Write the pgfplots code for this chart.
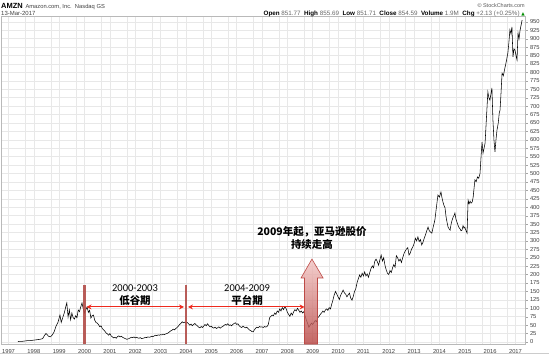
\documentclass[border=0pt]{standalone}
\usepackage{fontspec}
\setmainfont{Liberation Sans}
\newfontfamily\cjk{Noto Sans CJK SC}
\newfontfamily\carlito{Carlito}
\newfontfamily\dejavu{DejaVu Sans}
\usepackage{pgfplots}
\pgfplotsset{compat=1.18}
\usetikzlibrary{arrows.meta}
\definecolor{vline}{HTML}{B24C48}
\definecolor{redarrow}{HTML}{EE2A1E}
\definecolor{arrowedge}{HTML}{BD4A46}
\definecolor{arrowtop}{HTML}{F2C4C2}
\definecolor{arrowbot}{HTML}{B5413E}
\begin{document}
\begin{tikzpicture}
\path[use as bounding box] (0,0) rectangle (549bp,357bp);
\begin{axis}[
  at={(1bp,13bp)}, anchor=south west,
  width=524bp, height=327.5bp, scale only axis,
  xmin=1996.704, xmax=2017.375, ymin=-6, ymax=966,
  axis line style={gray!55},
  xtick={1997,1998,...,2017},
  minor xtick={1997.67,1998.67,1999.67,2000.67,2001.67,2002.67,2003.67,2004.67,2005.67,2006.67,2007.67,2008.67,2009.67,2010.67,2011.67,2012.67,2013.67,2014.67,2015.67,2016.67},
  ytick={0,25,...,950},
  xtick pos=bottom, ytick pos=right,
  tick align=outside, major tick length=2.5bp, minor tick length=0pt,
  xtick style={draw=none},
  ytick style={gray!70},
  grid=both,
  major grid style={gray!18, line width=0.5bp},
  minor grid style={gray!18, line width=0.5bp},
  /pgf/number format/1000 sep={},
  /pgf/number format/assume math mode=true,
  tick label style={font=\fontsize{5.8}{6}\selectfont, text=black!75},
  yticklabel style={anchor=west, xshift=-1bp},
  xticklabel style={yshift=0.5bp},
  clip=false,
]
\addplot[black, line width=0.55bp] table {
1997.37 1
1997.45 2
1997.55 2
1997.65 3
1997.75 4
1997.85 4
1997.95 5
1998.05 6
1998.15 7
1998.25 8
1998.35 10
1998.42 20
1998.48 25
1998.52 22
1998.58 17
1998.65 15
1998.72 20
1998.8 30
1998.88 48
1998.95 58
1999.03 80
1999.08 58
1999.13 70
1999.2 86
1999.27 108
1999.3 116
1999.35 74
1999.4 95
1999.45 66
1999.5 86
1999.55 72
1999.6 68
1999.65 78
1999.7 72
1999.75 95
1999.8 90
1999.85 104
1999.9 116
1999.95 98
2000.0 86
2000.05 96
2000.1 104
2000.15 88
2000.2 94
2000.25 71
2000.3 78
2000.35 80
2000.4 65
2000.45 58
2000.5 56
2000.55 52
2000.6 45
2000.65 48
2000.7 40
2000.75 36
2000.8 32
2000.85 27
2000.9 24
2000.95 20
2001.0 25
2001.05 18
2001.1 15
2001.15 12
2001.2 14
2001.25 11
2001.3 16
2001.35 18
2001.4 15
2001.45 17
2001.5 14
2001.55 12
2001.6 10
2001.67 8
2001.75 10
2001.8 12
2001.85 14
2001.9 13
2001.95 15
2002.0 12
2002.05 14
2002.1 12
2002.15 11
2002.2 13
2002.25 10
2002.3 11
2002.35 12
2002.4 14
2002.45 13
2002.5 15
2002.55 14
2002.6 15
2002.65 17
2002.7 16
2002.75 18
2002.8 20
2002.85 19
2002.9 21
2002.95 20
2003.0 22
2003.05 21
2003.1 23
2003.15 22
2003.2 24
2003.25 25
2003.3 27
2003.35 30
2003.4 33
2003.45 35
2003.5 38
2003.55 36
2003.6 40
2003.65 43
2003.7 47
2003.75 52
2003.8 55
2003.85 60
2003.9 57
2003.95 59
2004.0 56
2004.05 58
2004.1 54
2004.15 50
2004.2 53
2004.25 48
2004.3 52
2004.35 55
2004.4 51
2004.45 48
2004.5 44
2004.55 42
2004.6 46
2004.65 43
2004.7 47
2004.75 52
2004.8 48
2004.85 54
2004.9 49
2004.95 45
2005.0 47
2005.05 43
2005.1 41
2005.15 44
2005.2 40
2005.25 42
2005.3 45
2005.35 41
2005.4 44
2005.45 46
2005.5 49
2005.55 52
2005.6 50
2005.65 54
2005.7 49
2005.75 51
2005.8 48
2005.85 52
2005.9 55
2005.95 57
2006.0 52
2006.05 54
2006.1 48
2006.15 45
2006.2 43
2006.25 47
2006.3 44
2006.35 42
2006.4 44
2006.45 40
2006.5 36
2006.55 34
2006.6 31
2006.65 30
2006.7 36
2006.75 41
2006.8 44
2006.85 42
2006.9 46
2006.95 44
2007.0 45
2007.05 43
2007.1 46
2007.15 44
2007.2 46
2007.25 52
2007.3 72
2007.35 76
2007.4 80
2007.45 78
2007.5 86
2007.55 82
2007.6 92
2007.65 88
2007.7 98
2007.75 92
2007.8 102
2007.85 96
2007.9 105
2007.95 99
2008.0 88
2008.05 82
2008.1 76
2008.15 86
2008.2 80
2008.25 90
2008.3 96
2008.35 92
2008.4 100
2008.45 94
2008.5 88
2008.55 92
2008.6 86
2008.65 90
2008.7 78
2008.75 65
2008.8 55
2008.85 44
2008.9 50
2008.95 56
2009.0 52
2009.05 58
2009.1 64
2009.15 60
2009.2 72
2009.25 76
2009.3 82
2009.35 86
2009.4 92
2009.45 88
2009.5 95
2009.55 98
2009.6 94
2009.65 102
2009.7 98
2009.75 112
2009.8 125
2009.85 140
2009.9 150
2009.95 142
2010.0 134
2010.05 126
2010.1 138
2010.15 146
2010.2 154
2010.25 146
2010.3 142
2010.35 134
2010.4 140
2010.45 145
2010.5 130
2010.55 124
2010.6 135
2010.65 150
2010.7 158
2010.75 176
2010.8 188
2010.85 199
2010.9 192
2010.95 204
2011.0 196
2011.05 208
2011.1 196
2011.15 202
2011.2 192
2011.25 206
2011.3 218
2011.35 226
2011.4 220
2011.45 240
2011.5 246
2011.55 238
2011.6 228
2011.65 244
2011.7 258
2011.75 240
2011.8 250
2011.85 228
2011.9 214
2011.95 204
2012.0 200
2012.05 212
2012.1 206
2012.15 220
2012.2 230
2012.25 222
2012.3 256
2012.35 250
2012.4 240
2012.45 246
2012.5 236
2012.55 250
2012.6 262
2012.65 270
2012.7 276
2012.75 280
2012.8 258
2012.85 264
2012.9 276
2012.95 282
2013.0 292
2013.05 308
2013.1 300
2013.15 312
2013.2 298
2013.25 304
2013.3 288
2013.35 296
2013.4 308
2013.45 318
2013.5 330
2013.55 341
2013.6 330
2013.65 326
2013.7 323
2013.75 340
2013.82 362
2013.88 400
2013.94 436
2014.0 430
2014.06 445
2014.1 428
2014.14 415
2014.18 405
2014.22 398
2014.26 372
2014.3 355
2014.34 341
2014.38 336
2014.42 332
2014.46 350
2014.5 362
2014.54 371
2014.58 376
2014.61 383
2014.65 365
2014.69 356
2014.73 347
2014.77 340
2014.81 336
2014.85 330
2014.89 332
2014.93 345
2014.97 338
2015.0 341
2015.05 330
2015.09 323
2015.13 421
2015.17 410
2015.21 418
2015.25 412
2015.29 415
2015.33 430
2015.37 460
2015.4 481
2015.45 476
2015.5 490
2015.55 486
2015.6 500
2015.65 560
2015.68 593
2015.72 561
2015.76 575
2015.8 590
2015.85 660
2015.91 742
2015.95 725
2015.99 718
2016.03 735
2016.07 754
2016.11 659
2016.15 600
2016.19 564
2016.23 600
2016.27 629
2016.32 650
2016.36 680
2016.39 688
2016.43 740
2016.47 798
2016.52 790
2016.56 805
2016.59 816
2016.63 830
2016.67 846
2016.7 858
2016.74 890
2016.78 926
2016.82 915
2016.86 935
2016.9 846
2016.94 870
2016.98 866
2017.02 850
2017.06 837
2017.1 917
2017.14 900
2017.18 925
2017.22 940
2017.26 955
};
% vertical markers
\draw[vline, line width=2.2bp, opacity=0.9] (axis cs:2000.0,-6) -- (axis cs:2000.0,169);
\draw[vline, line width=2.2bp, opacity=0.9] (axis cs:2004.0,-6) -- (axis cs:2004.0,169);
% double arrows
\draw[redarrow, line width=1.1bp, {Stealth[length=5bp,width=5bp]}-{Stealth[length=5bp,width=5bp]}] (axis cs:2000.08,104) -- (axis cs:2003.92,104);
\draw[redarrow, line width=1.1bp, {Stealth[length=5bp,width=5bp]}-{Stealth[length=5bp,width=5bp]}] (axis cs:2004.08,104) -- (axis cs:2008.68,104);
% block arrow
\path[draw=arrowedge, line width=0.6bp, top color=arrowtop, bottom color=arrowbot, fill opacity=0.8]
  (axis cs:2008.676,-6) -- (axis cs:2008.676,190) -- (axis cs:2008.54,190) -- (axis cs:2008.97,246)
  -- (axis cs:2009.41,190) -- (axis cs:2009.19,190) -- (axis cs:2009.19,-6) -- cycle;
% texts
\node[font=\carlito\fontsize{10.5}{12}\selectfont] at (axis cs:2001.99,160) {2000-2003};
\node[font=\cjk\bfseries\fontsize{10.5}{12}\selectfont] at (axis cs:2001.99,122) {低谷期};
\node[font=\carlito\fontsize{10.5}{12}\selectfont] at (axis cs:2006.41,160) {2004-2009};
\node[font=\cjk\bfseries\fontsize{10.5}{12}\selectfont] at (axis cs:2006.41,122) {平台期};
\node[font=\cjk\bfseries\fontsize{10.5}{12}\selectfont] at (axis cs:2008.97,326) {2009年起，亚马逊股价};
\node[font=\cjk\bfseries\fontsize{10.5}{12}\selectfont] at (axis cs:2008.97,290) {持续走高};
\end{axis}
% header
\node[anchor=base west, inner sep=0pt] at (1bp,348.7bp) {{\fontsize{7.5}{8}\selectfont\bfseries AMZN}\ {\fontsize{5.8}{7}\selectfont\color{black!75}Amazon.com, Inc.\ \ Nasdaq GS}};
\node[anchor=base west, inner sep=0pt, font=\fontsize{6}{7}\selectfont, text=black!75] at (1bp,341.6bp) {13-Mar-2017};
\node[anchor=base east, inner sep=0pt, font=\fontsize{5.5}{6}\selectfont, text=black!65] at (525bp,349.5bp) {© StockCharts.com};
\node[anchor=base east, inner sep=0pt, font=\fontsize{6.3}{7}\selectfont] at (525bp,341.6bp) {\textbf{Open} \textcolor{black!60}{851.77}\ \ \textbf{High} \textcolor{black!60}{855.69}\ \ \textbf{Low} \textcolor{black!60}{851.71}\ \ \textbf{Close} \textcolor{black!60}{854.59}\ \ \textbf{Volume} \textcolor{black!60}{1.9M}\ \ \textbf{Chg} \textcolor{black!60}{+2.13 (+0.25\%)} {\dejavu\color{green!55!black}\fontsize{4.5}{5}\selectfont ▲}};
\draw[gray!40, line width=0.5bp] (0,3.5bp) -- (549bp,3.5bp);
\end{tikzpicture}
\end{document}
